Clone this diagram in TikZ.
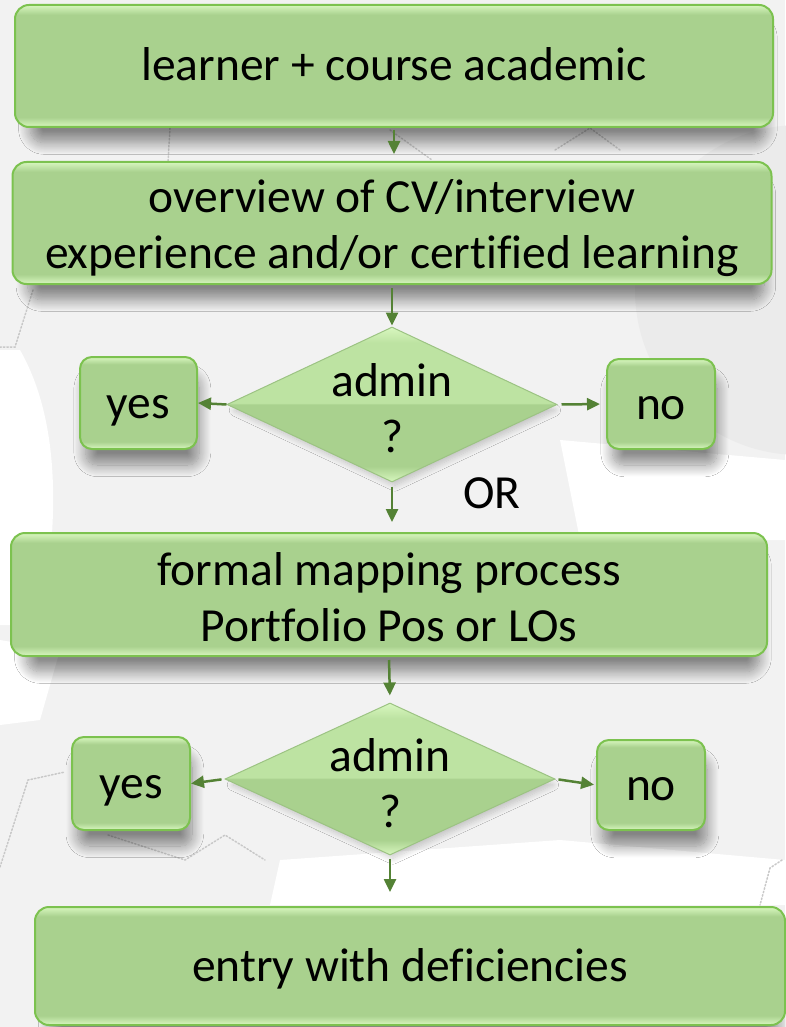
\documentclass[tikz,border=0pt]{standalone}
\usepackage{fontspec}
\setmainfont{Carlito}[Ligatures=NoCommon]
\usetikzlibrary{shapes.geometric,arrows.meta,shadows.blur}
\definecolor{gmain}{HTML}{A9D18E}
\definecolor{glight}{HTML}{D8F7BF}
\definecolor{gdtop}{HTML}{BDE3A2}
\definecolor{gborder}{HTML}{7CC24F}
\definecolor{dborder}{HTML}{9CC383}
\definecolor{garrow}{HTML}{548235}
\definecolor{bg}{HTML}{F2F2F2}
\definecolor{bgdark}{HTML}{EBEBEB}
\definecolor{gear}{HTML}{C8C8C8}
\pgfdeclareverticalshading{bevelbox}{100bp}{color(0bp)=(glight); color(25bp)=(glight); color(29bp)=(gmain); color(71bp)=(gmain); color(75bp)=(glight); color(100bp)=(glight)}
\pgfdeclareverticalshading{diashade}{100bp}{color(0bp)=(glight); color(25bp)=(glight); color(30bp)=(gmain); color(50bp)=(gmain); color(50.5bp)=(gdtop); color(70bp)=(gdtop); color(75bp)=(glight); color(100bp)=(glight)}
\tikzset{
  txt/.style={font=\fontsize{47.5}{56}\selectfont, align=center, text=black},
  one/.style={text height=40pt, text depth=10pt},
  box/.style={txt, rounded corners=14pt, draw=gborder, line width=2pt, shade, shading=bevelbox, inner sep=0pt,
    blur shadow={shadow xshift=4pt, shadow yshift=-18pt, shadow blur radius=12pt, shadow opacity=45, shadow blur steps=16, shadow scale=0.97}},
  dia/.style={diamond, draw=dborder, line width=1pt, shade, shading=diashade, inner sep=0pt,
    blur shadow={shadow xshift=3pt, shadow yshift=-6pt, shadow blur radius=6pt, shadow opacity=20, shadow blur steps=10, shadow scale=0.97}},
  arr/.style={draw=garrow, line width=2.5pt, -{Triangle[length=13pt,width=12pt]}},
  geardots/.style={draw=gear, line width=1.5pt, dotted, line cap=round}
}
\begin{document}
\begin{tikzpicture}[x=1pt,y=-1pt]
\useasboundingbox (0,0) rectangle (785,1027);
% background
\fill[bg] (0,0) rectangle (785,1027);
\fill[bgdark] (800,290) circle (165);
\fill[white] (0,350) -- (20,350) .. controls (60,420) and (60,520) .. (40,625) -- (0,625) -- cycle;
\fill[white] (0,640) -- (60,650) -- (40,720) -- (0,725) -- cycle;
\fill[white] (560,440) -- (785,460) -- (785,540) -- (580,540) -- cycle;
\fill[white] (280,860) -- (560,840) -- (785,860) -- (785,905) -- (270,905) -- cycle;
\draw[geardots] (33,290) -- (15,347) -- (0,347);
\draw[geardots] (0,867) -- (28,780) -- (65,772);
\draw[geardots] (108,835) -- (185,860) -- (225,835) -- (265,860);
\draw[geardots] (170,128) -- (168,162);
\draw[geardots] (390,130) -- (432,160);
\draw[geardots] (555,150) -- (590,128) -- (620,150);
\draw[geardots] (782,860) -- (770,868) -- (760,905);
% nodes
\node[box, one, minimum width=758pt, minimum height=122pt] (b1) at (394,66) {learner + course academic};
\node[box, minimum width=759pt, minimum height=122pt] (b2) at (392,223) {\rule{0pt}{44pt}overview of CV/interview\\experience and/or certified learning};
\node[dia, minimum width=330pt, minimum height=155pt] (d1) at (392,404.5) {};
\node[txt] (d1t) at (392,408) {admin\\?};
\node[box, one, rounded corners=12pt, minimum width=117pt, minimum height=92pt] (y1) at (138.5,403) {yes};
\node[box, one, rounded corners=12pt, minimum width=108pt, minimum height=90pt] (n1) at (661,404) {no};
\node[txt, one] (or) at (492,493) {OR};
\node[box, minimum width=756pt, minimum height=123pt] (b3) at (389,594.5) {\rule{0pt}{39pt}formal mapping process\\Portfolio Pos or LOs};
\node[dia, minimum width=330pt, minimum height=152pt] (d2) at (390,779) {};
\node[txt] (d2t) at (390,783) {admin\\?};
\node[box, one, rounded corners=12pt, minimum width=118pt, minimum height=93pt] (y2) at (131,783.5) {yes};
\node[box, one, rounded corners=12pt, minimum width=108pt, minimum height=90pt] (n2) at (651,785) {no};
\node[box, one, minimum width=750pt, minimum height=118pt] (b4) at (410,966) {entry with deficiencies};
% connectors
\draw[arr, shorten <=2pt, shorten >=7pt] (b1.south) -- (b1.south |- b2.north);
\draw[arr, shorten <=3pt, shorten >=1pt] (b2.south) -- (d1.north);
\draw[arr] (d1.west) -- (y1.east);
\draw[arr, shorten <=4pt, shorten >=6pt] (d1.east) -- (n1.west);
\draw[arr, shorten <=4pt, shorten >=10pt] (d1.south) -- (d1.south |- b3.north);
\draw[arr, shorten <=3pt, shorten >=7pt] (b3.south) -- (d2.north);
\draw[arr, shorten <=3pt] (d2.west) -- (y2.east);
\draw[arr, shorten <=3pt, shorten >=2pt] (d2.east) -- (n2.west);
\draw[arr, shorten <=3pt, shorten >=14pt] (d2.south) -- (d2.south |- b4.north);
\end{tikzpicture}
\end{document}
